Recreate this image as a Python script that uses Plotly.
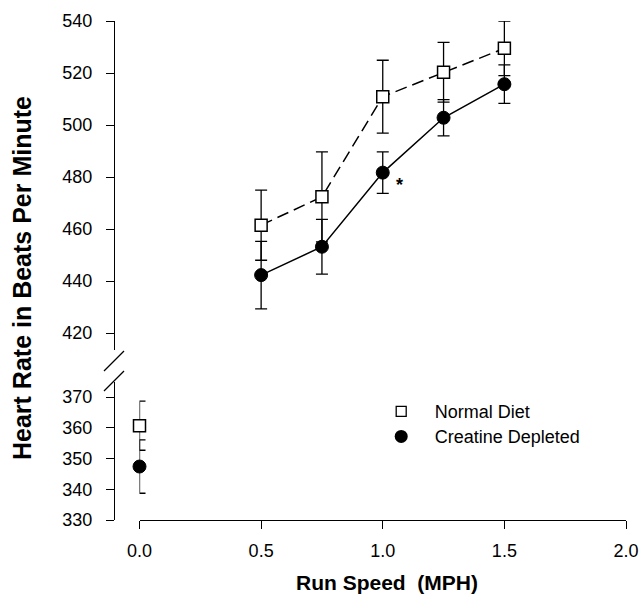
import plotly.graph_objects as go

# ---- data ----
speed = [0.0, 0.5, 0.75, 1.0, 1.25, 1.5]
normal_hr = [360.7, 461.5, 472.4, 510.9, 520.3, 529.5]
normal_sd = [8.0, 13.5, 17.3, 14.0, 11.5, 10.5]
depleted_hr = [347.4, 442.3, 453.2, 481.7, 502.8, 515.7]
depleted_sd = [8.7, 13.0, 10.5, 8.0, 7.0, 7.4]

upper_ticks = [420, 440, 460, 480, 500, 520, 540]
lower_ticks = [330, 340, 350, 360, 370]
x_ticks = [0.0, 0.5, 1.0, 1.5, 2.0]

# asterisk marking significance
star_x, star_y = [1.067], [477.0]

FONT = "Arial, Liberation Sans, Helvetica, sans-serif"

W, H = 640, 594
L, R, T, B = 114, 14, 21, 74
pw, ph = W - L - R, H - T - B


def px(xr):
    return (xr - L) / pw


def py(yr):
    return (H - B - yr) / ph


up_dom = [py(350), 1.0]
low_dom = [0.0, py(382)]
x_dom = [px(139.5), 1.0]

fig = go.Figure()


def split(xs, ys, es, low):
    ox, oy, oe = [], [], []
    for x, y, e in zip(xs, ys, es):
        if (x == 0.0) == low:
            ox.append(x); oy.append(y); oe.append(e)
    return ox, oy, oe


line_w = 1.5
for low in (False, True):
    yax = "y2" if low else "y"
    x1, y1, e1 = split(speed, normal_hr, normal_sd, low)
    x2, y2, e2 = split(speed, depleted_hr, depleted_sd, low)
    fig.add_trace(go.Scatter(
        x=x1, y=y1, yaxis=yax, xaxis="x", mode="lines+markers",
        line=dict(color="black", width=line_w, dash="12px,6px"),
        marker=dict(symbol="square", size=12, color="white",
                    line=dict(color="black", width=1.5)),
        error_y=dict(type="data", array=e1, visible=True, color="black",
                     thickness=1.3, width=6),
        showlegend=False, cliponaxis=False))
    fig.add_trace(go.Scatter(
        x=x2, y=y2, yaxis=yax, xaxis="x", mode="lines+markers",
        line=dict(color="black", width=line_w),
        marker=dict(symbol="circle", size=13, color="black",
                    line=dict(color="black", width=1)),
        error_y=dict(type="data", array=e2, visible=True, color="black",
                     thickness=1.3, width=6),
        showlegend=False, cliponaxis=False))

# legend-only entries (one legend each, for exact placement)
fig.add_trace(go.Scatter(x=[None], y=[None], mode="markers", name="Normal Diet",
                         marker=dict(symbol="square", size=10, color="white",
                                     line=dict(color="black", width=1.3)),
                         legend="legend"))
fig.add_trace(go.Scatter(x=[None], y=[None], mode="markers", name="Creatine Depleted",
                         marker=dict(symbol="circle", size=13, color="black"),
                         legend="legend2"))

axis_common = dict(showline=True, linecolor="black", linewidth=1.3,
                   ticks="outside", ticklen=8, tickwidth=1.3, tickcolor="black",
                   showgrid=False, zeroline=False, automargin=False,
                   tickfont=dict(family=FONT, size=18, color="black"))

leg_common = dict(xanchor="left", yanchor="middle", bgcolor="rgba(0,0,0,0)",
                  itemwidth=57, font=dict(family=FONT, size=18, color="black"))

fig.update_layout(
    width=W, height=H, margin=dict(l=L, r=R, t=T, b=B, autoexpand=False),
    paper_bgcolor="white", plot_bgcolor="white",
    font=dict(family=FONT, color="black"),
    xaxis=dict(domain=x_dom, range=[0, 2.0], tickvals=x_ticks,
               tickformat=".1f", anchor="y2", ticklabelstandoff=6, **axis_common),
    yaxis=dict(domain=up_dom, range=[413.5, 540], tickvals=upper_ticks,
               anchor="free", position=0, ticklabelstandoff=10, **axis_common),
    yaxis2=dict(domain=low_dom, range=[330, 374.9], tickvals=lower_ticks,
                anchor="free", position=0, ticklabelstandoff=10, **axis_common),
    legend=dict(x=px(367.7), y=py(411.7), **leg_common),
    legend2=dict(x=px(367.7), y=py(436.7), **leg_common),
    showlegend=True,
)

# axis titles
fig.add_annotation(text="<b>Heart Rate in Beats Per Minute</b>", textangle=-90,
                   xref="paper", yref="paper", x=px(22), y=py(278),
                   showarrow=False, font=dict(family=FONT, size=25, color="black"),
                   xanchor="center", yanchor="middle")
fig.add_annotation(text="<b>Run Speed  (MPH)</b>",
                   xref="paper", yref="paper", x=px(387), y=py(582),
                   showarrow=False, font=dict(family=FONT, size=21, color="black"),
                   xanchor="center", yanchor="middle")
# significance star
fig.add_annotation(text="<b>*</b>", x=star_x[0], y=star_y[0], xref="x", yref="y",
                   showarrow=False, font=dict(family=FONT, size=18, color="black"))

# axis break marks
for yc in (py(381), py(361)):
    fig.add_shape(type="line", xref="paper", yref="paper",
                  x0=px(104), y0=yc - 10 / ph, x1=px(124), y1=yc + 10 / ph,
                  line=dict(color="black", width=1.3))

fig.write_html(
    "out.html",
    config={"displayModeBar": False},
    post_script="document.body.style.margin='0px';document.body.style.overflow='hidden';",
)
